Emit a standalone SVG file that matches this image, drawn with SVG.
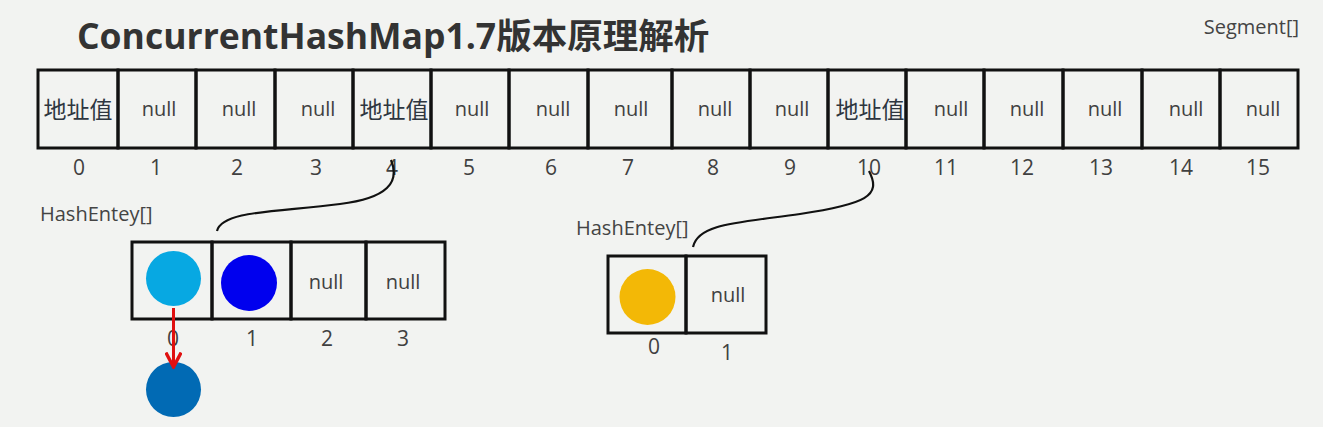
<svg xmlns="http://www.w3.org/2000/svg" width="1323" height="427" viewBox="0 0 1323 427">
<style>
.cell{fill:none;stroke:#111;stroke-width:3}
.t{font-family:"Open Sans","Noto Sans CJK SC",sans-serif;fill:#404040;text-anchor:middle}
.null{font-size:20px}
.idx{font-size:21px}
.addr{font-family:"Noto Sans CJK SC",sans-serif;font-size:23px;fill:#2e3640;text-anchor:middle}
.lbl{font-family:"Open Sans",sans-serif;font-size:20px;fill:#444}
.curve{fill:none;stroke:#111;stroke-width:2.2}
</style>
<defs>
<marker id="chev" viewBox="0 0 10 10" refX="9" refY="5" markerWidth="17" markerHeight="17" markerUnits="userSpaceOnUse" orient="auto">
<path d="M0.5,0.5 L9,5 L0.5,9.5" fill="none" stroke="#e01010" stroke-width="2"/>
</marker>
</defs>
<rect width="1323" height="427" fill="#f2f3f1"/>
<text x="77" y="49" font-family="'Open Sans','Noto Sans CJK SC',sans-serif" font-weight="bold" font-size="35.5" fill="#333">ConcurrentHashMap1.7版本原理解析</text>
<text class="lbl" x="1299" y="34" text-anchor="end" font-size="21">Segment[]</text>

<g id="segment">
<g id="seg0"><rect class="cell" x="38" y="70" width="80" height="78"/><text class="addr" x="78" y="118">地址值</text><text class="t idx" x="79" y="175">0</text></g>
<g id="seg1"><rect class="cell" x="118" y="70" width="78" height="78"/><text class="t null" x="159" y="116">null</text><text class="t idx" x="156" y="175">1</text></g>
<g id="seg2"><rect class="cell" x="196" y="70" width="79" height="78"/><text class="t null" x="239" y="116">null</text><text class="t idx" x="237" y="175">2</text></g>
<g id="seg3"><rect class="cell" x="275" y="70" width="78" height="78"/><text class="t null" x="318" y="116">null</text><text class="t idx" x="316" y="175">3</text></g>
<g id="seg4"><rect class="cell" x="353" y="70" width="78" height="78"/><text class="addr" x="394" y="118">地址值</text><text class="t idx" x="392" y="175">4</text></g>
<g id="seg5"><rect class="cell" x="431" y="70" width="78" height="78"/><text class="t null" x="472" y="116">null</text><text class="t idx" x="469" y="175">5</text></g>
<g id="seg6"><rect class="cell" x="509" y="70" width="79" height="78"/><text class="t null" x="553" y="116">null</text><text class="t idx" x="551" y="175">6</text></g>
<g id="seg7"><rect class="cell" x="588" y="70" width="84" height="78"/><text class="t null" x="631" y="116">null</text><text class="t idx" x="628" y="175">7</text></g>
<g id="seg8"><rect class="cell" x="672" y="70" width="78" height="78"/><text class="t null" x="715" y="116">null</text><text class="t idx" x="713" y="175">8</text></g>
<g id="seg9"><rect class="cell" x="750" y="70" width="78" height="78"/><text class="t null" x="792" y="116">null</text><text class="t idx" x="790" y="175">9</text></g>
<g id="seg10"><rect class="cell" x="828" y="70" width="78" height="78"/><text class="addr" x="870" y="118">地址值</text><text class="t idx" x="869" y="175">10</text></g>
<g id="seg11"><rect class="cell" x="906" y="70" width="78" height="78"/><text class="t null" x="951" y="116">null</text><text class="t idx" x="946" y="175">11</text></g>
<g id="seg12"><rect class="cell" x="984" y="70" width="79" height="78"/><text class="t null" x="1027" y="116">null</text><text class="t idx" x="1022" y="175">12</text></g>
<g id="seg13"><rect class="cell" x="1063" y="70" width="79" height="78"/><text class="t null" x="1105" y="116">null</text><text class="t idx" x="1101" y="175">13</text></g>
<g id="seg14"><rect class="cell" x="1142" y="70" width="78" height="78"/><text class="t null" x="1186" y="116">null</text><text class="t idx" x="1181" y="175">14</text></g>
<g id="seg15"><rect class="cell" x="1220" y="70" width="78" height="78"/><text class="t null" x="1263" y="116">null</text><text class="t idx" x="1258" y="175">15</text></g>
</g>

<g id="hashentry-a">
<text class="lbl" x="40" y="221">HashEntey[]</text>
<g id="a0"><rect class="cell" x="132" y="242" width="80" height="77"/><circle cx="173.5" cy="278.5" r="27.5" fill="#07a8e2"/><text class="t idx" x="173" y="346">0</text></g>
<g id="a1"><rect class="cell" x="212" y="242" width="79" height="77"/><circle cx="249" cy="283" r="28" fill="#0000ee"/><text class="t idx" x="252" y="346">1</text></g>
<g id="a2"><rect class="cell" x="291" y="242" width="75" height="77"/><text class="t null" x="326" y="289">null</text><text class="t idx" x="327" y="346">2</text></g>
<g id="a3"><rect class="cell" x="366" y="242" width="79" height="77"/><text class="t null" x="403" y="289">null</text><text class="t idx" x="403" y="346">3</text></g>
</g>
<g id="entry-next"><circle cx="173.5" cy="389.5" r="27.5" fill="#016ab4"/></g>

<g id="hashentry-b">
<text class="lbl" x="576" y="235">HashEntey[]</text>
<g id="b0"><rect class="cell" x="608" y="256" width="78" height="77"/><circle cx="647.5" cy="297" r="28" fill="#f3b806"/><text class="t idx" x="654" y="354">0</text></g>
<g id="b1"><rect class="cell" x="686" y="256" width="80" height="77"/><text class="t null" x="728" y="302">null</text><text class="t idx" x="727" y="360">1</text></g>
</g>

<g id="connectors">
<path class="curve" d="M391,160 C400,182 388,198 340,204 C280,212 222,210 217,231"/>
<path class="curve" d="M869,171 C882,196 866,204 800,214 C735,223 698,224 693,247"/>
<line x1="173.5" y1="308" x2="173.5" y2="367" stroke="#e01010" stroke-width="3" marker-end="url(#chev)"/>
</g>
</svg>
